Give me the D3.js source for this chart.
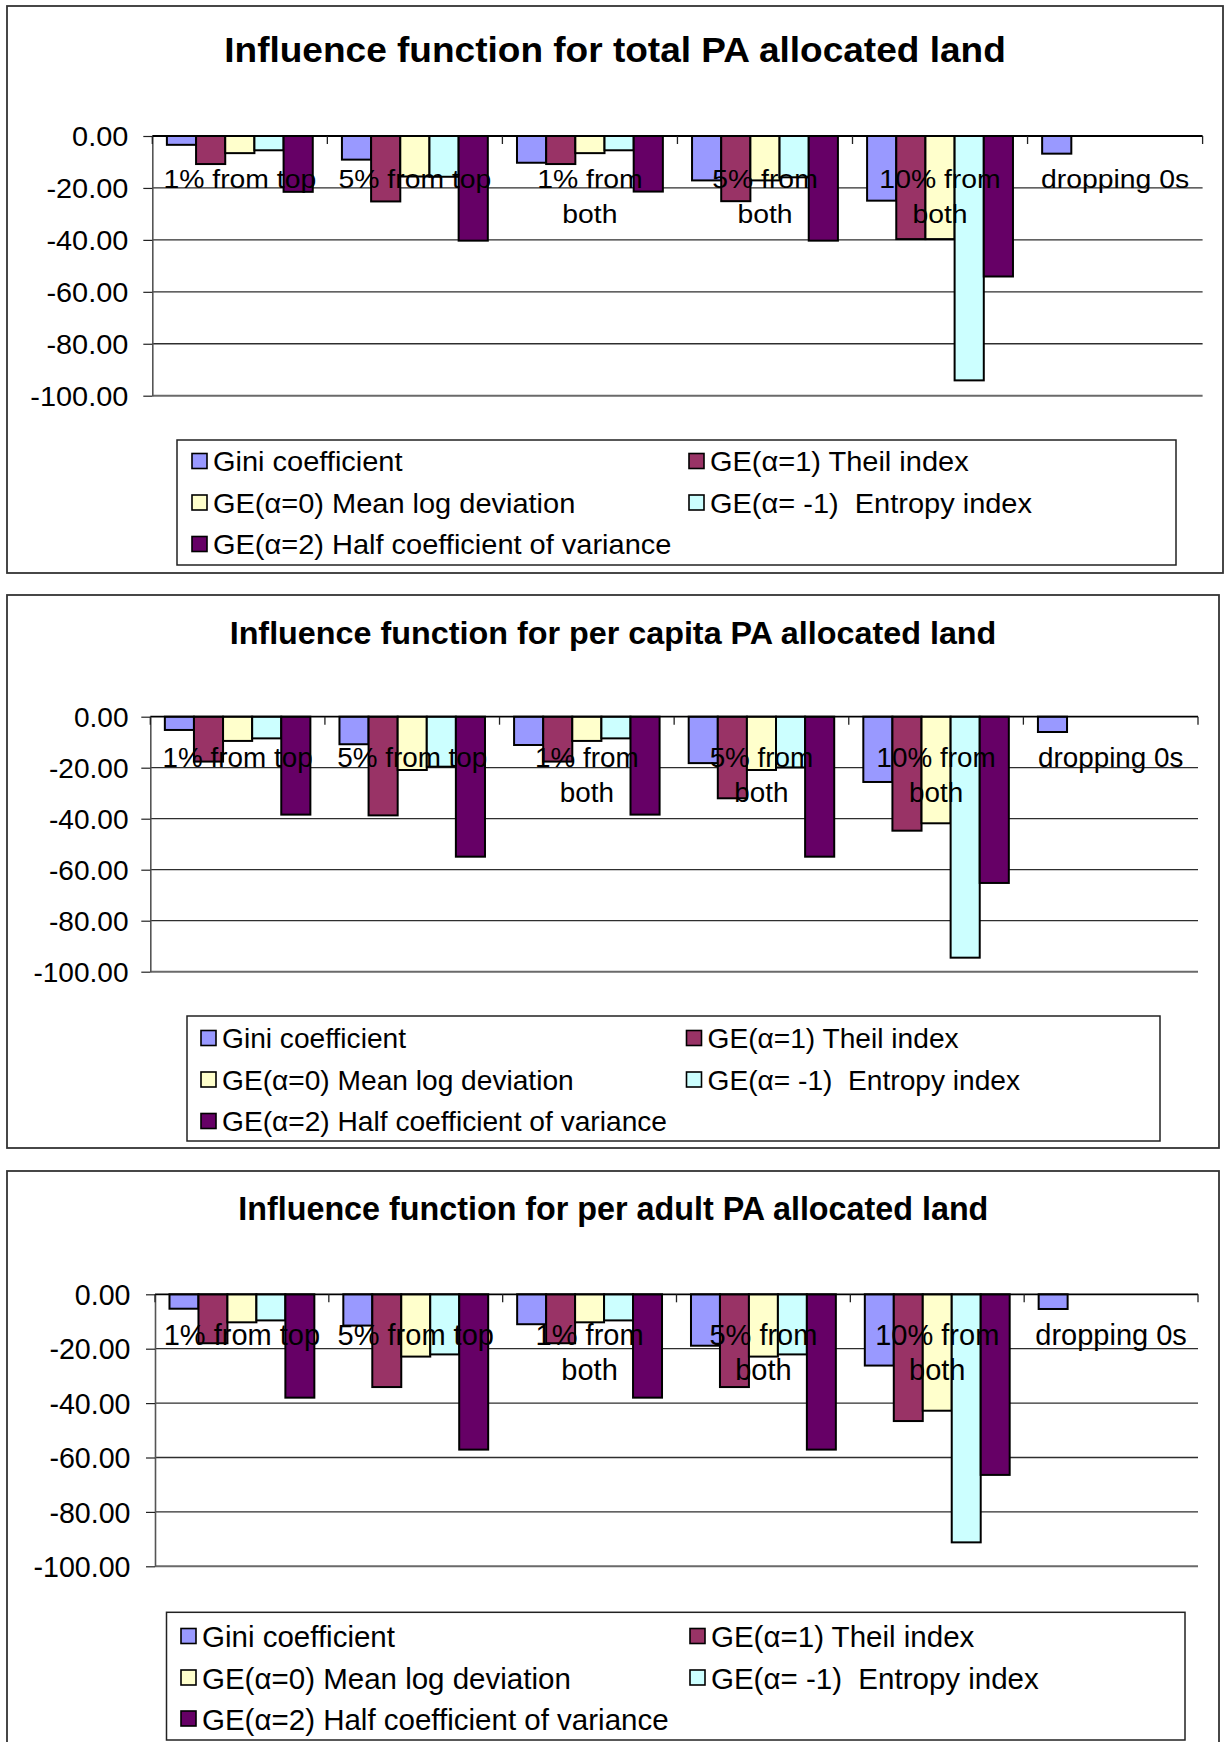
<!DOCTYPE html>
<html>
<head>
<meta charset="utf-8">
<script src="https://cdn.jsdelivr.net/npm/d3@7"></script>
<style>
  html, body { margin: 0; padding: 0; background: #ffffff; }
  svg { display: block; }
  text { font-family: "Liberation Sans", Arial, Helvetica, sans-serif; fill: #000; white-space: pre; }
</style>
</head>
<body>
<svg id="chart" width="1225" height="1742"></svg>
<script>
// ---------------- DATA ----------------
const titles = [
  "Influence function for total PA allocated land",
  "Influence function for per capita PA allocated land",
  "Influence function for per adult PA allocated land"
];
const categories = ["1% from top", "5% from top", "1% from\nboth", "5% from\nboth", "10% from\nboth", "dropping 0s"];
const seriesNames = [
  "Gini coefficient",
  "GE(α=1) Theil index",
  "GE(α=0) Mean log deviation",
  "GE(α= -1)  Entropy index",
  "GE(α=2) Half coefficient of variance"
];
const yTicks = [0, -20, -40, -60, -80, -100];

// total PA allocated land
const totalGini    = [-3.4, -9.1, -10.3, -17.1, -24.9, -6.8];
const totalTheil   = [-10.8, -25.2, -10.8, -25.1, -39.7, null];
const totalMLD     = [-6.6, -15.6, -6.6, -17.1, -39.7, null];
const totalEntropy = [-5.5, -15.7, -5.5, -15.9, -94.1, null];
const totalGE2     = [-21.5, -40.3, -21.4, -40.3, -54.1, null];

// per capita PA allocated land
const capitaGini    = [-5.2, -10.8, -11.1, -18.2, -25.6, -6.0];
const capitaTheil   = [-17.6, -38.7, -17.6, -32.0, -44.7, null];
const capitaMLD     = [-9.5, -20.9, -9.5, -20.9, -41.8, null];
const capitaEntropy = [-8.5, -19.6, -8.5, -19.9, -94.5, null];
const capitaGE2     = [-38.4, -54.9, -38.4, -54.9, -65.2, null];

// per adult PA allocated land
const adultGini    = [-5.3, -11.5, -11.0, -18.9, -26.2, -5.4];
const adultTheil   = [-18.0, -34.1, -18.0, -34.1, -46.6, null];
const adultMLD     = [-10.3, -22.9, -10.3, -22.9, -42.8, null];
const adultEntropy = [-9.6, -22.1, -9.6, -22.1, -91.2, null];
const adultGE2     = [-38.0, -57.1, -38.0, -57.1, -66.4, null];

// ---------------- STYLE / LAYOUT ----------------
const seriesColors = ["#9999FF", "#993366", "#FFFFCC", "#CCFFFF", "#660066"];

const panels = [
  { title: titles[0], data: [totalGini, totalTheil, totalMLD, totalEntropy, totalGE2],
    frame: [7, 6, 1223, 573], axisX: 152.3, plotRight: 1202.6, y0: 136, y100: 395.7,
    titleX: 615, titleY: 62, sx: 1.07, fTitle: 34.6, fTick: 27, fCat: 26.5, fLeg: 27.1,
    tickGap: 24, catDy: 51.5, catLH: 35,
    legBox: [177, 440, 1176, 565], legCols: [213, 710], legRows: [461.5, 503, 544.5] },
  { title: titles[1], data: [capitaGini, capitaTheil, capitaMLD, capitaEntropy, capitaGE2],
    frame: [7, 595, 1219, 1148], axisX: 150.3, plotRight: 1198, y0: 716.7, y100: 971.7,
    titleX: 613, titleY: 644, sx: 1.02, fTitle: 31.7, fTick: 27.5, fCat: 27.3, fLeg: 27.6,
    tickGap: 21.8, catDy: 50, catLH: 35,
    legBox: [187, 1016, 1160, 1141], legCols: [222, 707.5], legRows: [1038.5, 1080, 1121.5] },
  { title: titles[2], data: [adultGini, adultTheil, adultMLD, adultEntropy, adultGE2],
    frame: [7, 1171, 1219, 1760], axisX: 155, plotRight: 1198, y0: 1294.3, y100: 1566.3,
    titleX: 613.3, titleY: 1220, sx: 1.0, fTitle: 32.3, fTick: 28.6, fCat: 29, fLeg: 29.5,
    tickGap: 24.5, catDy: 50.7, catLH: 35,
    legBox: [166.5, 1612.3, 1185, 1740], legCols: [202, 711], legRows: [1636.5, 1678, 1719] }
];

const fmt = d3.formatLocale({ decimal: ".", thousands: ",", grouping: [3], currency: ["", ""], minus: "-" }).format(".2f");
const svg = d3.select("#chart");

function addText(g, x, y, str, size, sx, anchor, weight) {
  return g.append("text")
    .attr("transform", `translate(${x},${y}) scale(${sx},1)`)
    .attr("text-anchor", anchor)
    .style("font-size", size + "px")
    .style("font-weight", weight || "normal")
    .text(str);
}

panels.forEach(p => {
  const g = svg.append("g");
  const [fx0, fy0, fx1, fy1] = p.frame;

  // chart frame
  g.append("rect")
    .attr("x", fx0).attr("y", fy0)
    .attr("width", fx1 - fx0).attr("height", fy1 - fy0)
    .attr("fill", "#fff").attr("stroke", "#333").attr("stroke-width", 1.8);

  // title
  addText(g, p.titleX, p.titleY, p.title, p.fTitle, p.sx, "middle", "bold");

  // scales
  const x0 = d3.scaleBand().domain(categories).range([p.axisX, p.plotRight]).paddingInner(0).paddingOuter(0);
  const bw = x0.bandwidth();
  const x1 = d3.scaleBand().domain(d3.range(seriesNames.length)).range([bw / 12, bw - bw / 12]).padding(0);
  const y = d3.scaleLinear().domain([0, -100]).range([p.y0, p.y100]);

  // gridlines
  g.append("g").selectAll("line")
    .data(yTicks.filter(t => t !== 0))
    .join("line")
    .attr("x1", p.axisX).attr("x2", p.plotRight)
    .attr("y1", d => y(d)).attr("y2", d => y(d))
    .attr("stroke", d => d === -100 ? "#6a6a6a" : "#2e2e2e")
    .attr("stroke-width", d => d === -100 ? 2 : 1.3);

  // bars
  p.data.forEach((vals, si) => {
    g.append("g").selectAll("rect")
      .data(vals.map((v, ci) => ({ v, c: categories[ci] })).filter(d => d.v !== null))
      .join("rect")
      .attr("x", d => x0(d.c) + x1(si))
      .attr("y", y(0))
      .attr("width", x1.bandwidth())
      .attr("height", d => y(d.v) - y(0))
      .attr("fill", seriesColors[si])
      .attr("stroke", "#000")
      .attr("stroke-width", 2);
  });

  // y axis
  const yAxis = d3.axisLeft(y).tickValues(yTicks).tickFormat(fmt)
    .tickSize(9).tickSizeOuter(0).tickPadding(p.tickGap - 9);
  const ax = g.append("g").attr("transform", `translate(${p.axisX},0)`).call(yAxis);
  ax.attr("font-family", null).attr("font-size", null);
  ax.select(".domain").attr("stroke", "#555").attr("stroke-width", 1.6);
  ax.selectAll(".tick line").attr("stroke", "#222").attr("stroke-width", 1.2);
  ax.selectAll(".tick text")
    .style("font-size", p.fTick + "px")
    .attr("dy", null)
    .attr("x", -p.tickGap / p.sx)
    .attr("y", 0.36 * p.fTick)
    .attr("transform", `scale(${p.sx},1)`)
    .attr("fill", "#000");

  // zero line (category axis)
  g.append("line")
    .attr("x1", p.axisX).attr("x2", p.plotRight)
    .attr("y1", y(0)).attr("y2", y(0))
    .attr("stroke", "#000").attr("stroke-width", 1.8);

  // category tick marks at band boundaries
  const bounds = categories.map(c => x0(c)).concat([p.plotRight]);
  g.append("g").selectAll("line")
    .data(bounds)
    .join("line")
    .attr("x1", d => d).attr("x2", d => d)
    .attr("y1", y(0)).attr("y2", y(0) + 8)
    .attr("stroke", "#222").attr("stroke-width", 1.3);

  // category labels (drawn over bars)
  categories.forEach(c => {
    const cx = x0(c) + bw / 2;
    c.split("\n").forEach((line, li) => {
      addText(g, cx, y(0) + p.catDy + li * p.catLH, line, p.fCat, p.sx, "middle");
    });
  });

  // legend
  const [lx0, ly0, lx1, ly1] = p.legBox;
  g.append("rect")
    .attr("x", lx0).attr("y", ly0)
    .attr("width", lx1 - lx0).attr("height", ly1 - ly0)
    .attr("fill", "#fff").attr("stroke", "#222").attr("stroke-width", 1.5);
  seriesNames.forEach((name, i) => {
    const col = i % 2, row = Math.floor(i / 2);
    const tx = p.legCols[col], ry = p.legRows[row];
    g.append("rect")
      .attr("x", tx - 21).attr("y", ry - 8)
      .attr("width", 15).attr("height", 15)
      .attr("fill", seriesColors[i]).attr("stroke", "#000").attr("stroke-width", 1.6);
    addText(g, tx, ry + 0.36 * p.fLeg, name, p.fLeg, p.sx, "start");
  });
});
</script>
</body>
</html>
